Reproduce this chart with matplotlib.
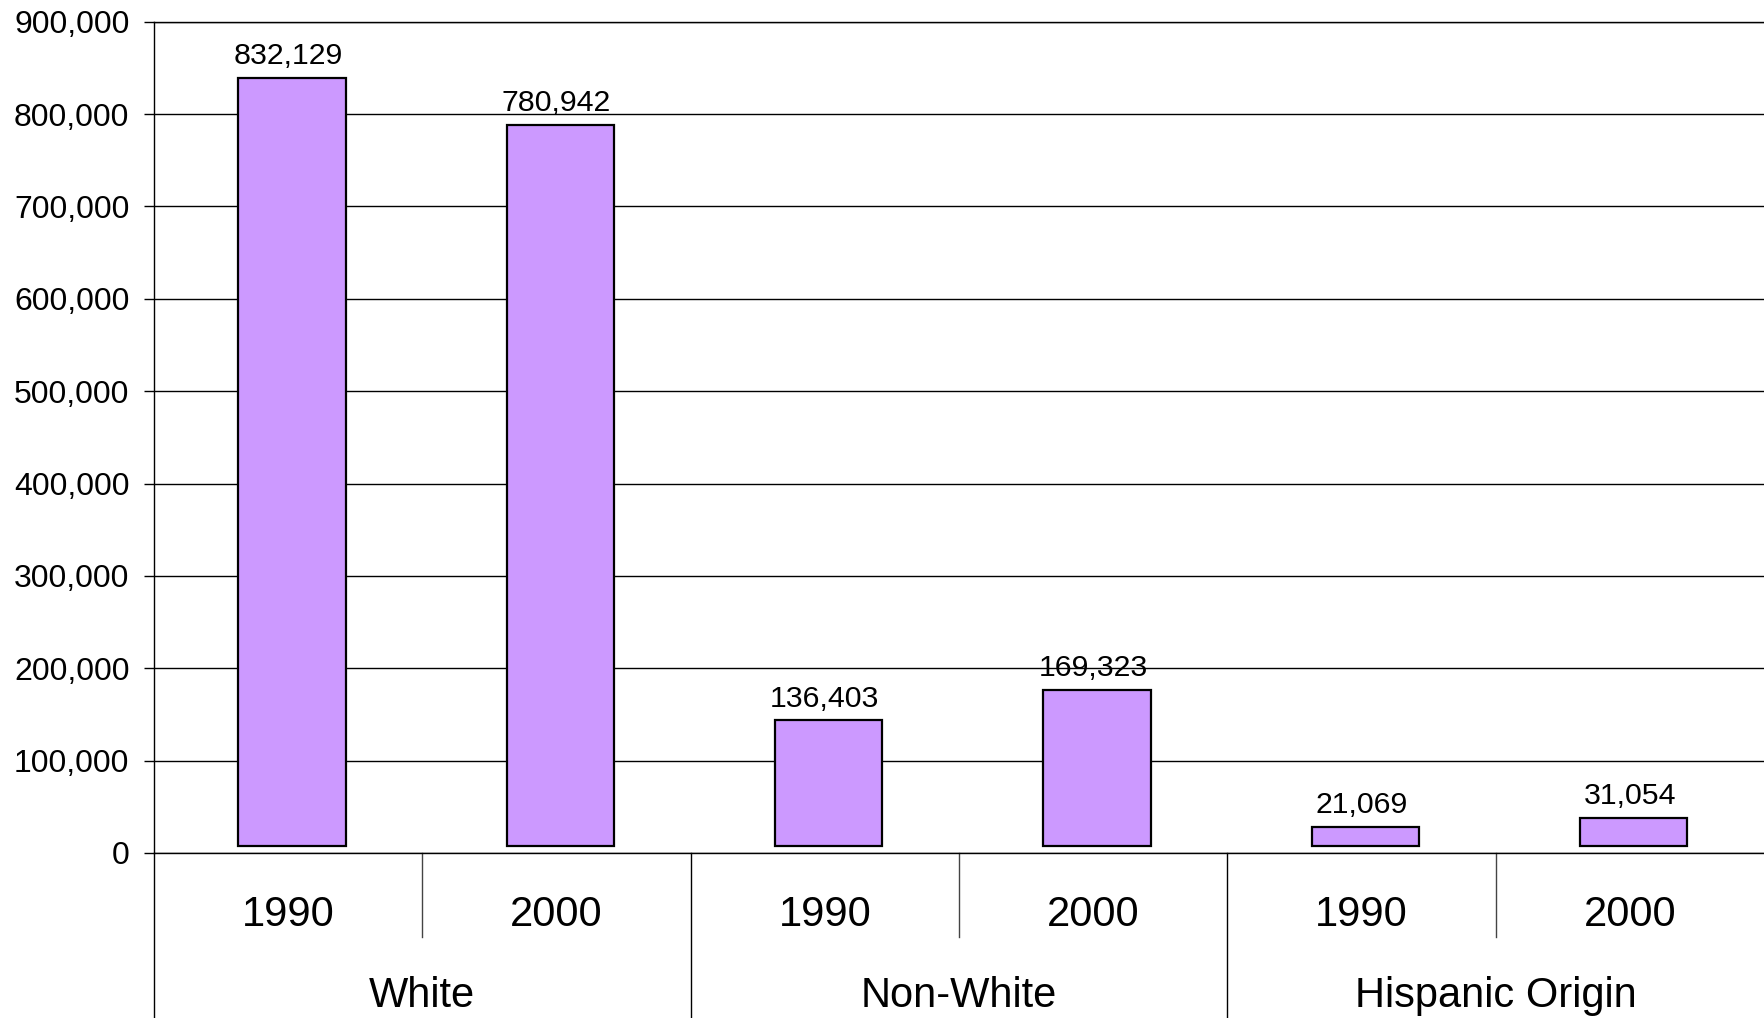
import matplotlib.pyplot as plt
import matplotlib.transforms as mtransforms
from matplotlib.ticker import FuncFormatter

plt.rcParams['font.family'] = ['Liberation Sans', 'DejaVu Sans']

groups = ['White', 'Non-White', 'Hispanic Origin']
years = ['1990', '2000']
values = [832129, 780942, 136403, 169323, 21069, 31054]

bar_color = '#CC99FF'


def plot_chart():
    fig = plt.figure(figsize=(17.64, 10.18), dpi=100)
    ax = fig.add_axes([0.0873, 0.1621, 0.9127, 0.8166])

    x = list(range(len(values)))
    # bars in the original sit a few pixels up and to the right of their slot
    shifted = mtransforms.offset_copy(ax.transData, fig=fig, x=4, y=6.5, units='dots')
    ax.bar(x, values, width=0.4, color=bar_color, edgecolor='black',
           linewidth=1.6, transform=shifted, zorder=3)

    for xi, v in zip(x, values):
        ax.annotate(f'{v:,}', (xi, v), xytext=(0, 20.5), textcoords='offset points',
                    ha='center', va='center', fontsize=21.8, zorder=4)

    ax.set_xlim(-0.5, len(values) - 0.5)
    ax.set_ylim(0, 900000)
    ax.set_yticks(range(0, 900001, 100000))
    ax.yaxis.set_major_formatter(FuncFormatter(lambda v, p: f'{int(v):,}'))
    ax.tick_params(axis='y', length=7.2, width=1, pad=10.5, labelsize=23, color='black')
    ax.set_xticks([])
    ax.yaxis.grid(True, color='black', linewidth=1)
    ax.set_axisbelow(True)

    ax.spines['right'].set_visible(False)
    for s in ['top', 'left', 'bottom']:
        ax.spines[s].set_linewidth(1)
        ax.spines[s].set_color('black')

    # multi-level category axis
    bt = ax.get_xaxis_transform()
    for i, xi in enumerate(x):
        ax.text(xi, -0.075, years[i % 2], transform=bt, ha='center', va='center',
                fontsize=30)
    for g, name in enumerate(groups):
        ax.text(2 * g + 0.5, -0.172, name, transform=bt, ha='center', va='center',
                fontsize=30)
        ax.plot([2 * g + 0.5, 2 * g + 0.5], [0, -0.101], transform=bt,
                color='#444444', linewidth=1, clip_on=False)
    for g in range(len(groups)):
        xb = 2 * g - 0.5
        ax.plot([xb, xb], [0, -0.2], transform=bt, color='black',
                linewidth=1, clip_on=False)

    fig.savefig('out.png', dpi=100)


def main():
    plot_chart()


if __name__ == '__main__':
    main()
